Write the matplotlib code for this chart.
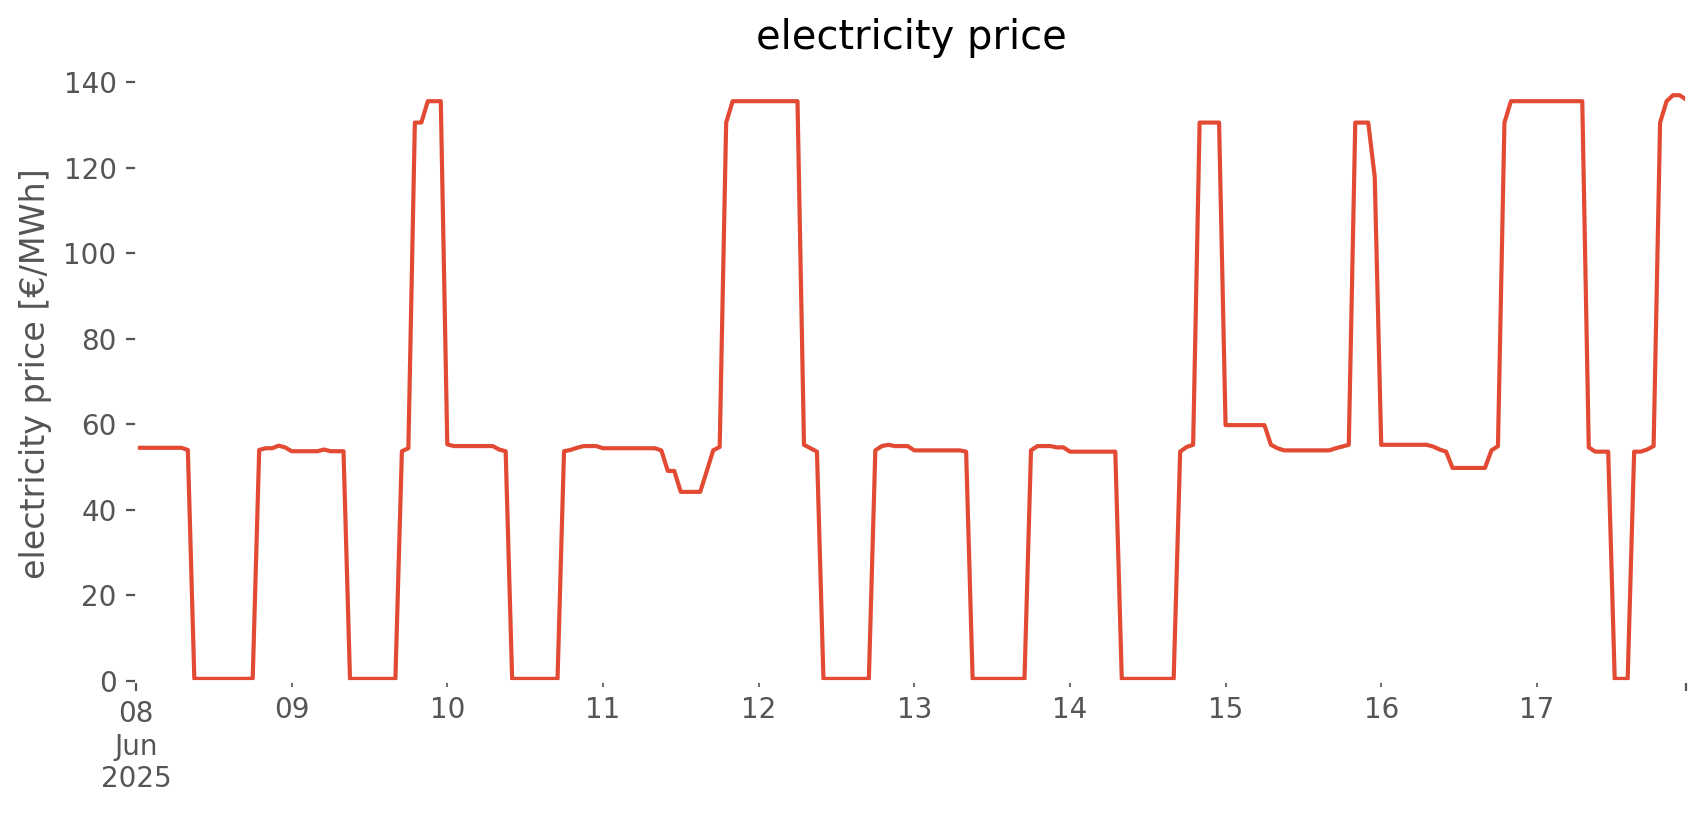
import matplotlib
matplotlib.use('Agg')
import matplotlib.pyplot as plt
import pandas as pd

plt.style.use('ggplot')

# hourly prices, one list per day
jun08 = [54.5, 54.5, 54.5, 54.5, 54.5, 54.5, 54.5, 54.5, 54.0, 0.5, 0.5, 0.5,
         0.5, 0.5, 0.5, 0.5, 0.5, 0.5, 0.6, 54.0, 54.4, 54.4, 55.0, 54.6]
jun09 = [53.7, 53.7, 53.7, 53.7, 53.7, 54.1, 53.7, 53.7, 53.7, 0.5, 0.5, 0.5,
         0.5, 0.5, 0.5, 0.5, 0.5, 53.7, 54.4, 130.5, 130.5, 135.5, 135.5, 135.5]
jun10 = [55.3, 54.9, 54.9, 54.9, 54.9, 54.9, 54.9, 54.9, 54.1, 53.7, 0.5, 0.5,
         0.5, 0.5, 0.5, 0.5, 0.5, 0.5, 53.7, 54.0, 54.5, 54.9, 54.9, 54.9]
jun11 = [54.4, 54.4, 54.4, 54.4, 54.4, 54.4, 54.4, 54.4, 54.4, 53.9, 49.1, 49.1,
         44.2, 44.2, 44.2, 44.2, 49.0, 53.9, 54.7, 130.5, 135.5, 135.5, 135.5, 135.5]
jun12 = [135.5, 135.5, 135.5, 135.5, 135.5, 135.5, 135.5, 55.2, 54.4, 53.6, 0.5, 0.5,
         0.5, 0.5, 0.5, 0.5, 0.5, 0.5, 53.9, 54.9, 55.2, 54.9, 54.9, 54.9]
jun13 = [53.9, 53.9, 53.9, 53.9, 53.9, 53.9, 53.9, 53.9, 53.6, 0.5, 0.5, 0.5,
         0.5, 0.5, 0.5, 0.5, 0.5, 0.5, 53.9, 54.9, 54.9, 54.9, 54.6, 54.6]
jun14 = [53.6, 53.6, 53.6, 53.6, 53.6, 53.6, 53.6, 53.6, 0.5, 0.5, 0.5, 0.5,
         0.5, 0.5, 0.5, 0.5, 0.5, 53.6, 54.7, 55.2, 130.5, 130.5, 130.5, 130.5]
jun15 = [59.8, 59.8, 59.8, 59.8, 59.8, 59.8, 59.8, 55.2, 54.4, 53.9, 53.9, 53.9,
         53.9, 53.9, 53.9, 53.9, 53.9, 54.4, 54.8, 55.2, 130.5, 130.5, 130.5, 117.8]
jun16 = [55.2, 55.2, 55.2, 55.2, 55.2, 55.2, 55.2, 55.2, 54.8, 54.1, 53.6, 49.8,
         49.8, 49.8, 49.8, 49.8, 49.8, 53.9, 54.9, 130.5, 135.5, 135.5, 135.5, 135.5]
jun17 = [135.5, 135.5, 135.5, 135.5, 135.5, 135.5, 135.5, 135.5, 54.6, 53.6, 53.6, 53.6,
         0.5, 0.5, 0.5, 53.6, 53.6, 54.1, 54.9, 130.5, 135.5, 136.9, 136.9, 135.9]

price = jun08 + jun09 + jun10 + jun11 + jun12 + jun13 + jun14 + jun15 + jun16 + jun17
idx = pd.date_range('2025-06-08', periods=len(price), freq='h')
s = pd.Series(price, index=idx)

fig, ax = plt.subplots(figsize=(8.53, 4.075), dpi=200)
s.plot(ax=ax)
ax.set_facecolor('white')
ax.grid(False)
ax.set_ylim(bottom=0)
ax.set_title('electricity price')
ax.set_ylabel('electricity price [€/MWh]')
ax.set_xlabel('')

fig.subplots_adjust(left=0.0797, right=0.9883, bottom=0.1644, top=0.919)
fig.savefig('out.png', dpi=200)
